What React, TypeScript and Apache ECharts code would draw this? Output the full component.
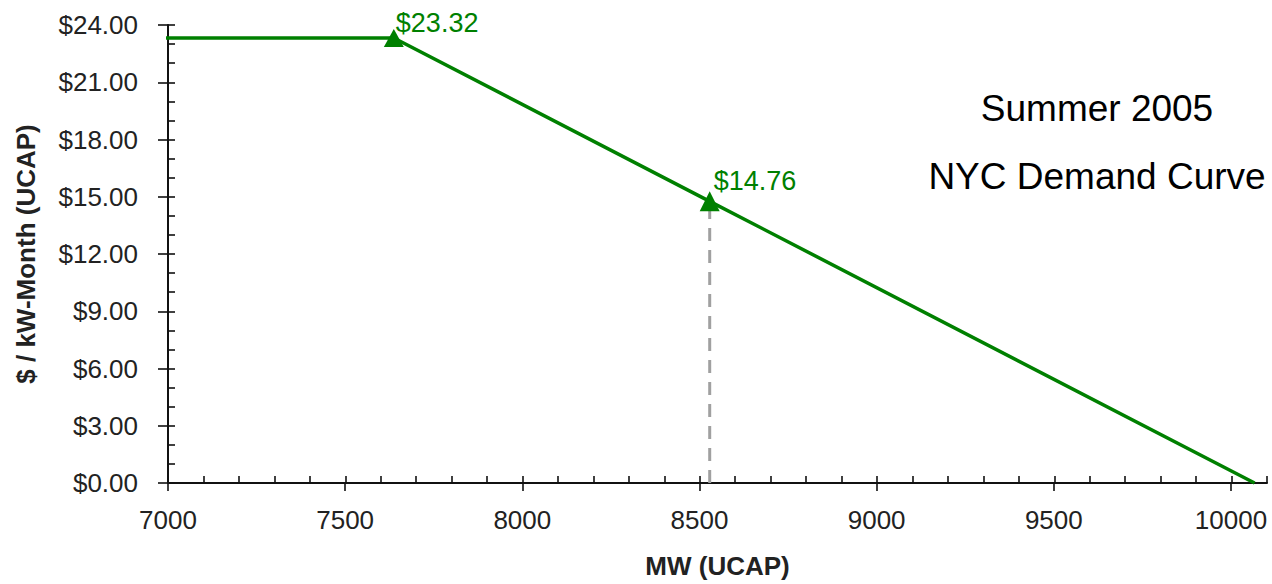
import React, { useEffect, useRef } from "react";
import * as echarts from "echarts";

// Demand curve points: capacity (MW UCAP) and price ($/kW-month)
const capacityMW = [6969, 7637, 8528, 10065];
const pricePerKW = [23.32, 23.32, 14.76, 0];
const labelledIdx = [1, 2];
const referenceIdx = 2; // dashed drop line from this point
const titleLines = ["Summer 2005", "NYC Demand Curve"];
const xTicks = [7000, 7500, 8000, 8500, 9000, 9500, 10000];

const FONT = "'Liberation Sans', Arial, sans-serif";
const GREEN = "#008000";

export default function App() {
  const ref = useRef<HTMLDivElement>(null);
  useEffect(() => {
    if (!ref.current) return;
    const chart = echarts.init(ref.current, null, { renderer: "svg" });
    const labelPos: Record<number, number[]> = { 1: [12, -6], 2: [14, -10] };
    const curve = capacityMW.map((x, i) => {
      const isLab = labelledIdx.includes(i);
      return {
        value: [x, pricePerKW[i]],
        symbol: isLab ? "triangle" : "none",
        symbolSize: i === 1 ? [20, 18] : [20, 20],
        label: isLab
          ? {
              show: true,
              position: labelPos[i],
              align: "left",
              verticalAlign: "middle",
              formatter: () => "$" + pricePerKW[i].toFixed(2),
              color: GREEN,
              fontSize: 27,
              fontFamily: FONT,
            }
          : { show: false },
      };
    });
    const option: any = {
      animation: false,
      backgroundColor: "#ffffff",
      grid: [
        { left: 168, right: 5, top: 25, bottom: 100, containLabel: false },
        { left: 168, right: 41, top: 25, bottom: 100, containLabel: false },
      ],
      xAxis: [
        {
          type: "value",
          gridIndex: 0,
          min: 7000,
          max: 10100,
          interval: 100,
          axisLine: { show: true, lineStyle: { color: "#111", width: 2 } },
          axisTick: { show: true, inside: true, length: 7, lineStyle: { color: "#111", width: 1.6 } },
          axisLabel: { show: false },
          splitLine: { show: false },
          name: "MW (UCAP)",
          nameLocation: "middle",
          nameGap: 70,
          nameTextStyle: { fontSize: 26, fontWeight: "bold", color: "#222", fontFamily: FONT },
        },
        {
          type: "value",
          gridIndex: 1,
          min: xTicks[0],
          max: xTicks[xTicks.length - 1],
          interval: 500,
          axisLine: { show: false },
          axisTick: { show: true, inside: false, length: 7, lineStyle: { color: "#111", width: 1.6 } },
          axisLabel: {
            show: true,
            margin: 23,
            fontSize: 26,
            color: "#222",
            fontFamily: FONT,
            formatter: (v: number) => String(v),
          },
          splitLine: { show: false },
        },
      ],
      yAxis: [
        {
          type: "value",
          gridIndex: 0,
          min: 0,
          max: 24,
          interval: 3,
          axisLine: { show: true, lineStyle: { color: "#111", width: 2 } },
          axisTick: { show: true, inside: true, length: 7, lineStyle: { color: "#111", width: 1.6 } },
          minorTick: { show: true, splitNumber: 3, length: 7, lineStyle: { color: "#111", width: 1.6 } },
          axisLabel: {
            margin: 30,
            fontSize: 26,
            color: "#222",
            fontFamily: FONT,
            formatter: (v: number) => "$" + v.toFixed(2),
          },
          splitLine: { show: false },
          name: "$ / kW-Month (UCAP)",
          nameLocation: "middle",
          nameGap: 129,
          nameTextStyle: { fontSize: 26, fontWeight: "bold", color: "#222", fontFamily: FONT },
        },
        {
          type: "value",
          gridIndex: 0,
          position: "left",
          min: 0,
          max: 24,
          interval: 3,
          axisLine: { show: false },
          axisTick: { show: true, inside: false, length: 10, lineStyle: { color: "#111", width: 1.6 } },
          axisLabel: { show: false },
          splitLine: { show: false },
        },
        {
          type: "value",
          gridIndex: 1,
          min: 0,
          max: 24,
          show: false,
        },
      ],
      series: [
        {
          type: "line",
          xAxisIndex: 0,
          yAxisIndex: 0,
          data: [
            [capacityMW[referenceIdx], 0],
            [capacityMW[referenceIdx], pricePerKW[referenceIdx]],
          ],
          symbol: "none",
          lineStyle: { color: "#a0a0a0", width: 3, type: [13, 9] },
          z: 1,
          silent: true,
        },
        {
          type: "line",
          xAxisIndex: 0,
          yAxisIndex: 0,
          data: curve,
          clip: false,
          lineStyle: { color: GREEN, width: 3.5 },
          itemStyle: { color: GREEN, borderWidth: 0 },
          z: 3,
        },
      ],
      graphic: [
        {
          type: "text",
          x: 1097,
          y: 108,
          style: { text: titleLines[0], align: "center", verticalAlign: "middle", fontSize: 37, fontFamily: FONT, fill: "#000" },
        },
        {
          type: "text",
          x: 1097,
          y: 176,
          style: { text: titleLines[1], align: "center", verticalAlign: "middle", fontSize: 37, fontFamily: FONT, fill: "#000" },
        },
      ],
    };
    chart.setOption(option);
    return () => chart.dispose();
  }, []);
  return (
    <div
      ref={ref}
      style={{ position: "fixed", left: 0, top: 0, width: 1272, height: 584, background: "#fff" }}
    />
  );
}
